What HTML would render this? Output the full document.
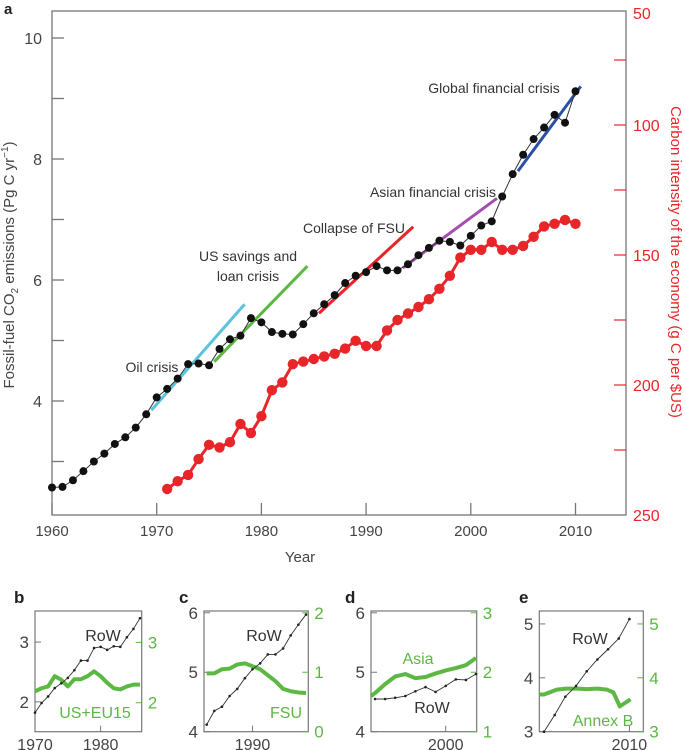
<!DOCTYPE html>
<html><head><meta charset="utf-8">
<style>
html,body{margin:0;padding:0;background:#fff;}
svg{display:block;font-family:"Liberation Sans","DejaVu Sans",sans-serif;}
</style></head>
<body>
<svg id="fig" width="685" height="750" viewBox="0 0 685 750" xmlns="http://www.w3.org/2000/svg">
<g id="main"></g>
<g id="small"></g>
</svg>
<script>
// ---- main chart data ----
const years = [1960,1961,1962,1963,1964,1965,1966,1967,1968,1969,1970,1971,1972,1973,1974,1975,1976,1977,1978,1979,1980,1981,1982,1983,1984,1985,1986,1987,1988,1989,1990,1991,1992,1993,1994,1995,1996,1997,1998,1999,2000,2001,2002,2003,2004,2005,2006,2007,2008,2009,2010];
const emissions = [2.57,2.58,2.69,2.84,3.0,3.13,3.29,3.40,3.56,3.78,4.06,4.20,4.37,4.61,4.62,4.59,4.86,5.02,5.08,5.37,5.30,5.14,5.11,5.10,5.27,5.45,5.60,5.75,5.95,6.07,6.13,6.23,6.16,6.16,6.26,6.41,6.53,6.65,6.63,6.57,6.73,6.90,6.97,7.38,7.75,8.07,8.33,8.52,8.73,8.60,9.12];
const intensityYears = [1971,1972,1973,1974,1975,1976,1977,1978,1979,1980,1981,1982,1983,1984,1985,1986,1987,1988,1989,1990,1991,1992,1993,1994,1995,1996,1997,1998,1999,2000,2001,2002,2003,2004,2005,2006,2007,2008,2009,2010];
const intensity = [240,237,234.6,228.5,223,224,222,215,218.5,212,202,199,192,191,190,189,188,186,183,185,185,179,175,172.5,170,167,163,158,151,148,148,145,148,148,146.5,143,139,138,136.5,138];
const crisisNames = ["oil-crisis","us-savings-loan-crisis","collapse-of-fsu","asian-financial-crisis","global-financial-crisis"];
const crisisStartYear = [1969.5,1975.5,1985.5,1993.5,2004.5];
const crisisEndYear = [1978.4,1984.4,1994.5,2002.5,2010.5];
const crisisStartVal = [3.85,4.65,5.45,6.2,7.8];
const crisisEndVal = [5.6,6.23,6.88,7.35,9.2];
const crisisColors = ["#5bc3dc","#5cb843","#e8262a","#a44fb0","#2a4fa5"];
const leftTicks = [10,8,6,4];
const rightTicks = [50,100,150,200,250];
const xTicks = [1960,1970,1980,1990,2000,2010];

// ---- small panel data ----
const bYears = [1970,1971,1972,1973,1974,1975,1976,1977,1978,1979,1980,1981,1982,1983,1984,1985,1986];
const bRow = [1.82,1.98,2.09,2.23,2.31,2.4,2.53,2.69,2.69,2.9,2.92,2.87,2.93,2.92,3.08,3.22,3.4];
const bGreen = [2.19,2.24,2.27,2.44,2.38,2.27,2.39,2.39,2.44,2.52,2.44,2.33,2.24,2.22,2.27,2.3,2.3];
const cYears = [1984,1985,1986,1987,1988,1989,1990,1991,1992,1993,1994,1995,1996,1997];
const cRow = [4.12,4.35,4.42,4.6,4.72,4.9,5.05,5.15,5.3,5.3,5.4,5.62,5.8,5.97];
const cGreen = [0.98,0.98,1.05,1.06,1.13,1.15,1.1,1.05,0.95,0.85,0.72,0.68,0.66,0.65];
const dYears = [1993,1994,1995,1996,1997,1998,1999,2000,2001,2002,2003];
const dRow = [4.55,4.55,4.57,4.6,4.68,4.75,4.67,4.77,4.88,4.87,4.97];
const dGreenYears = [1992.6,1993,1994,1995,1996,1997,1998,1999,2000,2001,2002,2003];
const dGreen = [1.6,1.65,1.8,1.93,1.97,1.9,1.92,1.98,2.03,2.07,2.12,2.24];
const eYears = [2002,2003,2004,2005,2006,2007,2008,2009,2010];
const eRow = [3.0,3.31,3.65,3.85,4.12,4.34,4.53,4.73,5.09];
const eGreenYears = [2001.56,2002,2003.2,2004.1,2005.1,2006,2007,2007.9,2008.5,2009.1,2010.1];
const eGreen = [3.69,3.69,3.78,3.8,3.8,3.79,3.8,3.78,3.73,3.47,3.6];

const NS="http://www.w3.org/2000/svg";
function mk(parent,tag,attrs,text){const e=document.createElementNS(NS,tag);for(const k in attrs)e.setAttribute(k,attrs[k]);if(text!==undefined)e.textContent=text;parent.appendChild(e);return e;}

// ---- main chart ----
const M=document.getElementById('main');
const X0=52,PX=10.47;
const xs=y=>X0+(y-1960)*PX;
const ysL=v=>38+(10-v)*60.5;
const ysR=v=>515-(250-v)*2.6;
const AX="#777",TXT="#444",RED="#e8262a";
const frame=mk(M,'rect',{x:52,y:11,width:574,height:504,fill:'none',stroke:AX,'stroke-width':1.3});


for(let v=3;v<=10;v++){const t=mk(M,'line',{x1:52,x2:64,y1:ysL(v),y2:ysL(v),stroke:AX,'stroke-width':1.3});}
leftTicks.forEach(v=>{const t=mk(M,'text',{x:42,y:ysL(v)+6,'text-anchor':'end','font-size':16,fill:TXT},String(v));});
for(let v=75;v<250;v+=25){const t=mk(M,'line',{x1:614,x2:626,y1:ysR(v),y2:ysR(v),stroke:RED,'stroke-width':1.2});}
rightTicks.forEach(v=>{const yy=v===50?19:ysR(v)+6;const t=mk(M,'text',{x:633,y:yy,'font-size':16,fill:RED},String(v));});
xTicks.forEach(v=>{const t=mk(M,'line',{x1:xs(v),x2:xs(v),y1:503,y2:515,stroke:AX,'stroke-width':1.3});
const l=mk(M,'text',{x:xs(v),y:536,'text-anchor':'middle','font-size':15,fill:TXT},String(v));});
let e;
e=mk(M,'text',{x:300,y:562,'text-anchor':'middle','font-size':15,fill:TXT},'Year');
e=mk(M,'text',{x:4,y:14,'font-size':15,'font-weight':'bold',fill:'#222'},'a');
e=mk(M,'text',{transform:'translate(14,265) rotate(-90)','text-anchor':'middle','font-size':15,fill:TXT});
e.innerHTML='Fossil-fuel CO<tspan font-size="10" dy="4">2</tspan><tspan dy="-4"> emissions (Pg C yr</tspan><tspan font-size="10" dy="-6">−1</tspan><tspan dy="6">)</tspan>';

e=mk(M,'text',{transform:'translate(671,262) rotate(90)','text-anchor':'middle','font-size':15,fill:RED},'Carbon intensity of the economy (g C per $US)');


crisisNames.forEach((n,i)=>{const l=mk(M,'line',{x1:xs(crisisStartYear[i]),y1:ysL(crisisStartVal[i]),x2:xs(crisisEndYear[i]),y2:ysL(crisisEndVal[i]),stroke:crisisColors[i],'stroke-width':3});});
e=mk(M,'polyline',{points:years.map((y,i)=>xs(y)+','+ysL(emissions[i])).join(' '),fill:'none',stroke:'#333','stroke-width':1});

years.forEach((y,i)=>{const c=mk(M,'circle',{cx:xs(y),cy:ysL(emissions[i]),r:4,fill:'#111'});});
e=mk(M,'polyline',{points:intensityYears.map((y,i)=>xs(y)+','+ysR(intensity[i])).join(' '),fill:'none',stroke:RED,'stroke-width':3});

intensityYears.forEach((y,i)=>{const c=mk(M,'circle',{cx:xs(y),cy:ysR(intensity[i]),r:5.2,fill:RED});});
const labs=[['Oil crisis',152,372],['US savings and',248,261],['loan crisis',248,281],['Collapse of FSU',354,233],['Asian financial crisis',433,197],['Global financial crisis',494,93]];
labs.forEach(a=>{const t=mk(M,'text',{x:a[1],y:a[2],'text-anchor':'middle','font-size':14,fill:'#333'},a[0]);});

// ---- small panels ----
const S=document.getElementById('small');
const GR="#5cb843";
function panel(o){
  const g=mk(S,'g',{});
  
  
  const T=611,B=731.7;
  const px=y=>o.l+(y-o.x0)/(o.x1-o.x0)*(o.r-o.l);
  const pl=v=>B-(v-o.lmin)/(o.lmax-o.lmin)*(B-T);
  const pr=v=>B-(v-o.rmin)/(o.rmax-o.rmin)*(B-T);
  let t=mk(g,'rect',{x:o.l,y:T,width:o.r-o.l,height:B-T,fill:'none',stroke:AX,'stroke-width':1.2});
  
  t=mk(g,'text',{x:o.lx,y:603,'font-size':17,'font-weight':'bold',fill:'#222'},o.id);
  
  o.lt.forEach(v=>{const q=mk(g,'line',{x1:o.l,x2:o.l+6,y1:pl(v),y2:pl(v),stroke:AX});
    const w=mk(g,'text',{x:o.l-6,y:pl(v)+6,'text-anchor':'end','font-size':17,fill:TXT},String(v));});
  o.rt.forEach(v=>{const q=mk(g,'line',{x1:o.r-6,x2:o.r,y1:pr(v),y2:pr(v),stroke:GR});
    const w=mk(g,'text',{x:o.r+6,y:pr(v)+6,'font-size':17,fill:GR},String(v));});
  o.xt.forEach(v=>{const q=mk(g,'line',{x1:px(v),x2:px(v),y1:B-6,y2:B,stroke:AX});
    const w=mk(g,'text',{x:px(v),y:750,'text-anchor':'middle','font-size':16,fill:TXT},String(v));});
  const gy=o.gYears||o.years;
  t=mk(g,'polyline',{points:gy.map((y,i)=>px(y)+','+pr(o.green[i])).join(' '),fill:'none',stroke:GR,'stroke-width':4,'stroke-linejoin':'round'});
  
  t=mk(g,'polyline',{points:o.years.map((y,i)=>px(y)+','+pl(o.row[i])).join(' '),fill:'none',stroke:'#333','stroke-width':0.9});
  
  o.years.forEach((y,i)=>{const c=mk(g,'circle',{cx:px(y),cy:pl(o.row[i]),r:1.3,fill:'#222'});});
  t=mk(g,'text',{x:o.rowLab[0],y:o.rowLab[1],'text-anchor':'middle','font-size':16,fill:'#333'},'RoW');
  
  t=mk(g,'text',{x:o.gLab[0],y:o.gLab[1],'text-anchor':'middle','font-size':16,fill:GR},o.gName);
  
}
panel({id:'b',lx:14,l:35,r:141.7,x0:1970,x1:1986.26,lmin:1.5,lmax:3.52,rmin:1.52,rmax:3.52,lt:[2,3],rt:[2,3],xt:[1970,1980],years:bYears,row:bRow,green:bGreen,rowLab:[103,641],gLab:[95,718],gName:'US+EU15'});
panel({id:'c',lx:179,l:204,r:308.3,x0:1983.65,x1:1997.3,lmin:4,lmax:6.03,rmin:0,rmax:2.03,lt:[4,5,6],rt:[0,1,2],xt:[1990],years:cYears,row:cRow,green:cGreen,rowLab:[264,641],gLab:[286,718],gName:'FSU'});
panel({id:'d',lx:345,l:371,r:476.7,x0:1992.6,x1:2003.07,lmin:4,lmax:6.03,rmin:1,rmax:3.03,lt:[4,5,6],rt:[1,2,3],xt:[2000],years:dYears,row:dRow,gYears:dGreenYears,green:dGreen,rowLab:[432,713],gLab:[418,664],gName:'Asia'});
panel({id:'e',lx:519,l:539.3,r:643.3,x0:2001.56,x1:2011.3,lmin:3,lmax:5.24,rmin:3,rmax:5.24,lt:[3,4,5],rt:[3,4,5],xt:[2010],years:eYears,row:eRow,gYears:eGreenYears,green:eGreen,rowLab:[590,644],gLab:[603,726],gName:'Annex B'});
</script>
</body></html>
